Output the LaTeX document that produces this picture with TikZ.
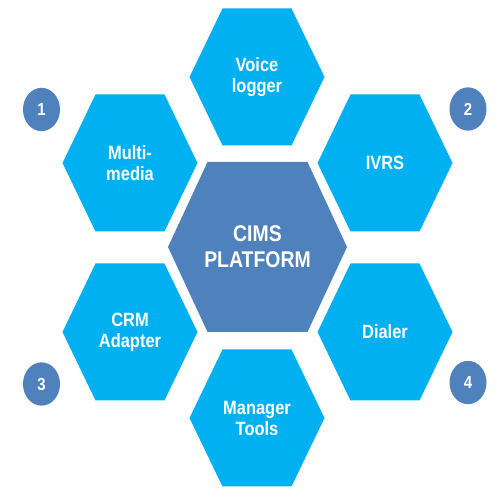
\documentclass[tikz,border=0pt]{standalone}
\usepackage{fontspec}
\setmainfont{Liberation Sans}
\usepackage{xcolor}
\usepackage{tikz}
\definecolor{cellblue}{HTML}{00B0F0}
\definecolor{hubblue}{HTML}{4F81BD}
\colorlet{cell}{cellblue}
\colorlet{hub}{hubblue}
\tikzset{
  pics/hexcell/.style={code={
    \path[pic actions] (-67.5,0) -- (-34.5,-68.5) -- (34.5,-68.5)
      -- (67.5,0) -- (34.5,68.5) -- (-34.5,68.5) -- cycle;}},
  pics/hubcell/.style={code={
    \path[pic actions] (-89.5,0) -- (-50,-85) -- (50,-85)
      -- (89.5,0) -- (50,85) -- (-50,85) -- cycle;}},
  celltext/.style={text=white,align=center,
    font=\bfseries\fontsize{16.5}{18}\selectfont,
    yscale=1.17,transform shape},
  hubtext/.style={celltext,font=\bfseries\fontsize{19.5}{22}\selectfont},
  badge/.style={circle,fill=hub,text=white,inner sep=0pt,minimum size=37bp,
    font=\bfseries\fontsize{15}{15}\selectfont,yscale=1.17,transform shape}
}

\begin{document}
\begin{tikzpicture}[x=1bp,y=1bp]
\useasboundingbox (0,0) rectangle (500,500);
% hexagons
\pic[fill=cell] at (257,423) {hexcell};
\pic[fill=cell] at (130,337) {hexcell};
\pic[fill=cell] at (385,337) {hexcell};
\pic[fill=hub] at (257.5,253) {hubcell};
\pic[fill=cell] at (130,168) {hexcell};
\pic[fill=cell] at (385,168) {hexcell};
\pic[fill=cell] at (257,82) {hexcell};
% labels
\node[celltext] (voice) at (257,423) {Voice\\logger};
\node[celltext] (media) at (130,337) {Multi-\\media};
\node[celltext] (ivrs) at (385,337) {IVRS};
\node[hubtext] (hub) at (257.5,253) {CIMS\\PLATFORM};
\node[celltext] (crm) at (130,168) {CRM\\Adapter};
\node[celltext] (dialer) at (385,168) {Dialer};
\node[celltext] (tools) at (257,82) {Manager\\Tools};
% numbers
\node[badge] (b1) at (41.5,390.5) {1};
\node[badge] (b2) at (468,391) {2};
\node[badge] (b3) at (41.5,116) {3};
\node[badge] (b4) at (468,117.5) {4};
\end{tikzpicture}
\end{document}
